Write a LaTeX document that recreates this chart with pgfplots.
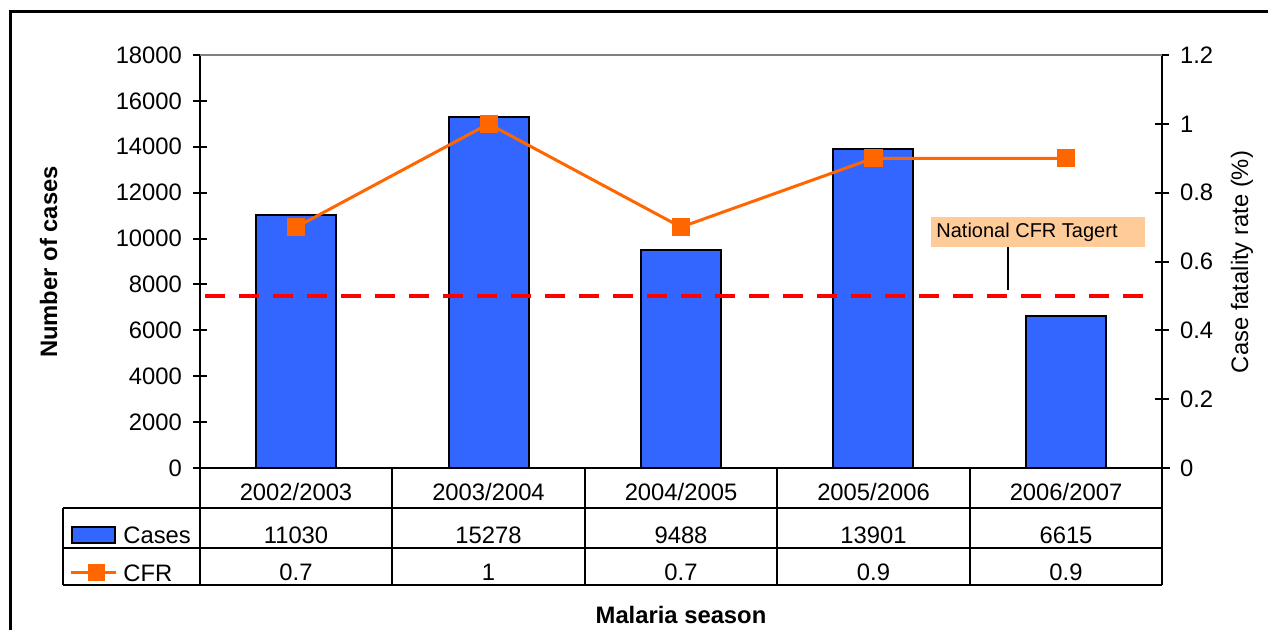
\documentclass[border=0pt]{standalone}
\usepackage{pgfplots}
\pgfplotsset{compat=1.18}
\usepackage{fontspec}
\setmainfont{Liberation Sans}
\definecolor{barblue}{HTML}{3366FF}
\definecolor{cfrorange}{HTML}{FF6600}
\definecolor{peach}{HTML}{FFCC99}
\newcommand{\tf}{\fontsize{11.9}{14}\selectfont}
\begin{document}
\begin{tikzpicture}
\pgfplotsset{
  common/.style={
    width=481pt, height=206.5pt, scale only axis,
    at={(100pt,-234pt)}, anchor=south west,
    xmin=-0.5, xmax=4.5,
    axis x line=none,
    tick align=center, major tick length=7pt,
    major tick style={black, line width=1pt},
    axis line style={black, line width=1pt},
    ticklabel style={font=\tf},
    scaled y ticks=false,
    /pgf/number format/assume math mode=true,
    /pgf/number format/1000 sep={},
    clip=false,
  }
}
\begin{axis}[common,
  ymin=0, ymax=18000, ytick distance=2000,
  axis y line*=left,
  yticklabel style={xshift=-2pt},
]
\addplot[ybar, bar width=0.416, fill=barblue, draw=black, line width=1pt]
  coordinates {(0,11030) (1,15278) (2,9488) (3,13901) (4,6615)};
\end{axis}
\begin{axis}[common,
  ymin=0, ymax=1.2, ytick distance=0.2,
  axis y line*=right,
  yticklabel style={xshift=2pt},
]
\addplot[red, line width=2pt, dash pattern=on 10pt off 7pt]
  coordinates {(-0.474,0.5) (4.453,0.5)};
\addplot[cfrorange, line width=1.5pt, mark=square*, mark size=3.8pt,
  mark options={solid, fill=cfrorange}]
  coordinates {(0,0.7) (1,1) (2,0.7) (3,0.9) (4,0.9)};
\end{axis}
\begin{scope}[x=0.5pt,y=-0.5pt]
  % frame
  \draw[black, line width=1.5pt] (10,700) -- (10,11) -- (1300,11);
  % top gray line
  \draw[gray, line width=0.8pt] (200,55) -- (1162,55);
  % annotation
  \fill[peach] (931,217) rectangle (1145,247);
  \node[anchor=west, inner sep=0pt, font=\fontsize{10}{12}\selectfont] at (936,232) {National CFR Tagert};
  \draw[black, line width=0.6pt] (1008,247) -- (1008,290);
  % table
  \draw[black, line width=1.2pt] (193,468) -- (1170,468);
  \draw[black, line width=1.2pt] (63,508) -- (1162,508);
  \draw[black, line width=0.9pt] (63,548) -- (1162,548);
  \draw[black, line width=1.2pt] (63,585) -- (1162,585);
  \draw[black, line width=1.2pt] (63,508) -- (63,585);
  \foreach \xx in {200,392,585,777,970,1162} {
    \draw[black, line width=1.2pt] (\xx,468) -- (\xx,585);
  }
  \foreach \xx/\lab/\cs/\cf in {296/2002\slash 2003/11030/0.7, 488.5/2003\slash 2004/15278/1, 681/2004\slash 2005/9488/0.7, 873.5/2005\slash 2006/13901/0.9, 1066/2006\slash 2007/6615/0.9} {
    \node[anchor=base, inner sep=0pt, font=\tf] at (\xx,500) {\lab};
    \node[anchor=base, inner sep=0pt, font=\tf] at (\xx,543) {\cs};
    \node[anchor=base, inner sep=0pt, font=\tf] at (\xx,580) {\cf};
  }
  % legend keys
  \filldraw[fill=barblue, draw=black, line width=1pt] (72,527) rectangle (115,543);
  \node[anchor=base west, inner sep=0pt, font=\tf] at (123,543) {Cases};
  \draw[cfrorange, line width=1.5pt] (71,572) -- (116,572);
  \fill[cfrorange] (88,564) rectangle (105,581);
  \node[anchor=base west, inner sep=0pt, font=\tf] at (123,581) {CFR};
  % axis labels
  \node[anchor=base, rotate=90, inner sep=0pt, font=\tf\bfseries] at (57,262) {Number of cases};
  \node[anchor=base, rotate=90, inner sep=0pt, font=\tf] at (1248,262) {Case fatality rate (\%)};
  \node[anchor=base, inner sep=0pt, font=\tf\bfseries] at (681,623) {Malaria season};
  \pgfresetboundingbox
  \useasboundingbox (0,0) rectangle (1268,629);
\end{scope}
\end{tikzpicture}
\end{document}
